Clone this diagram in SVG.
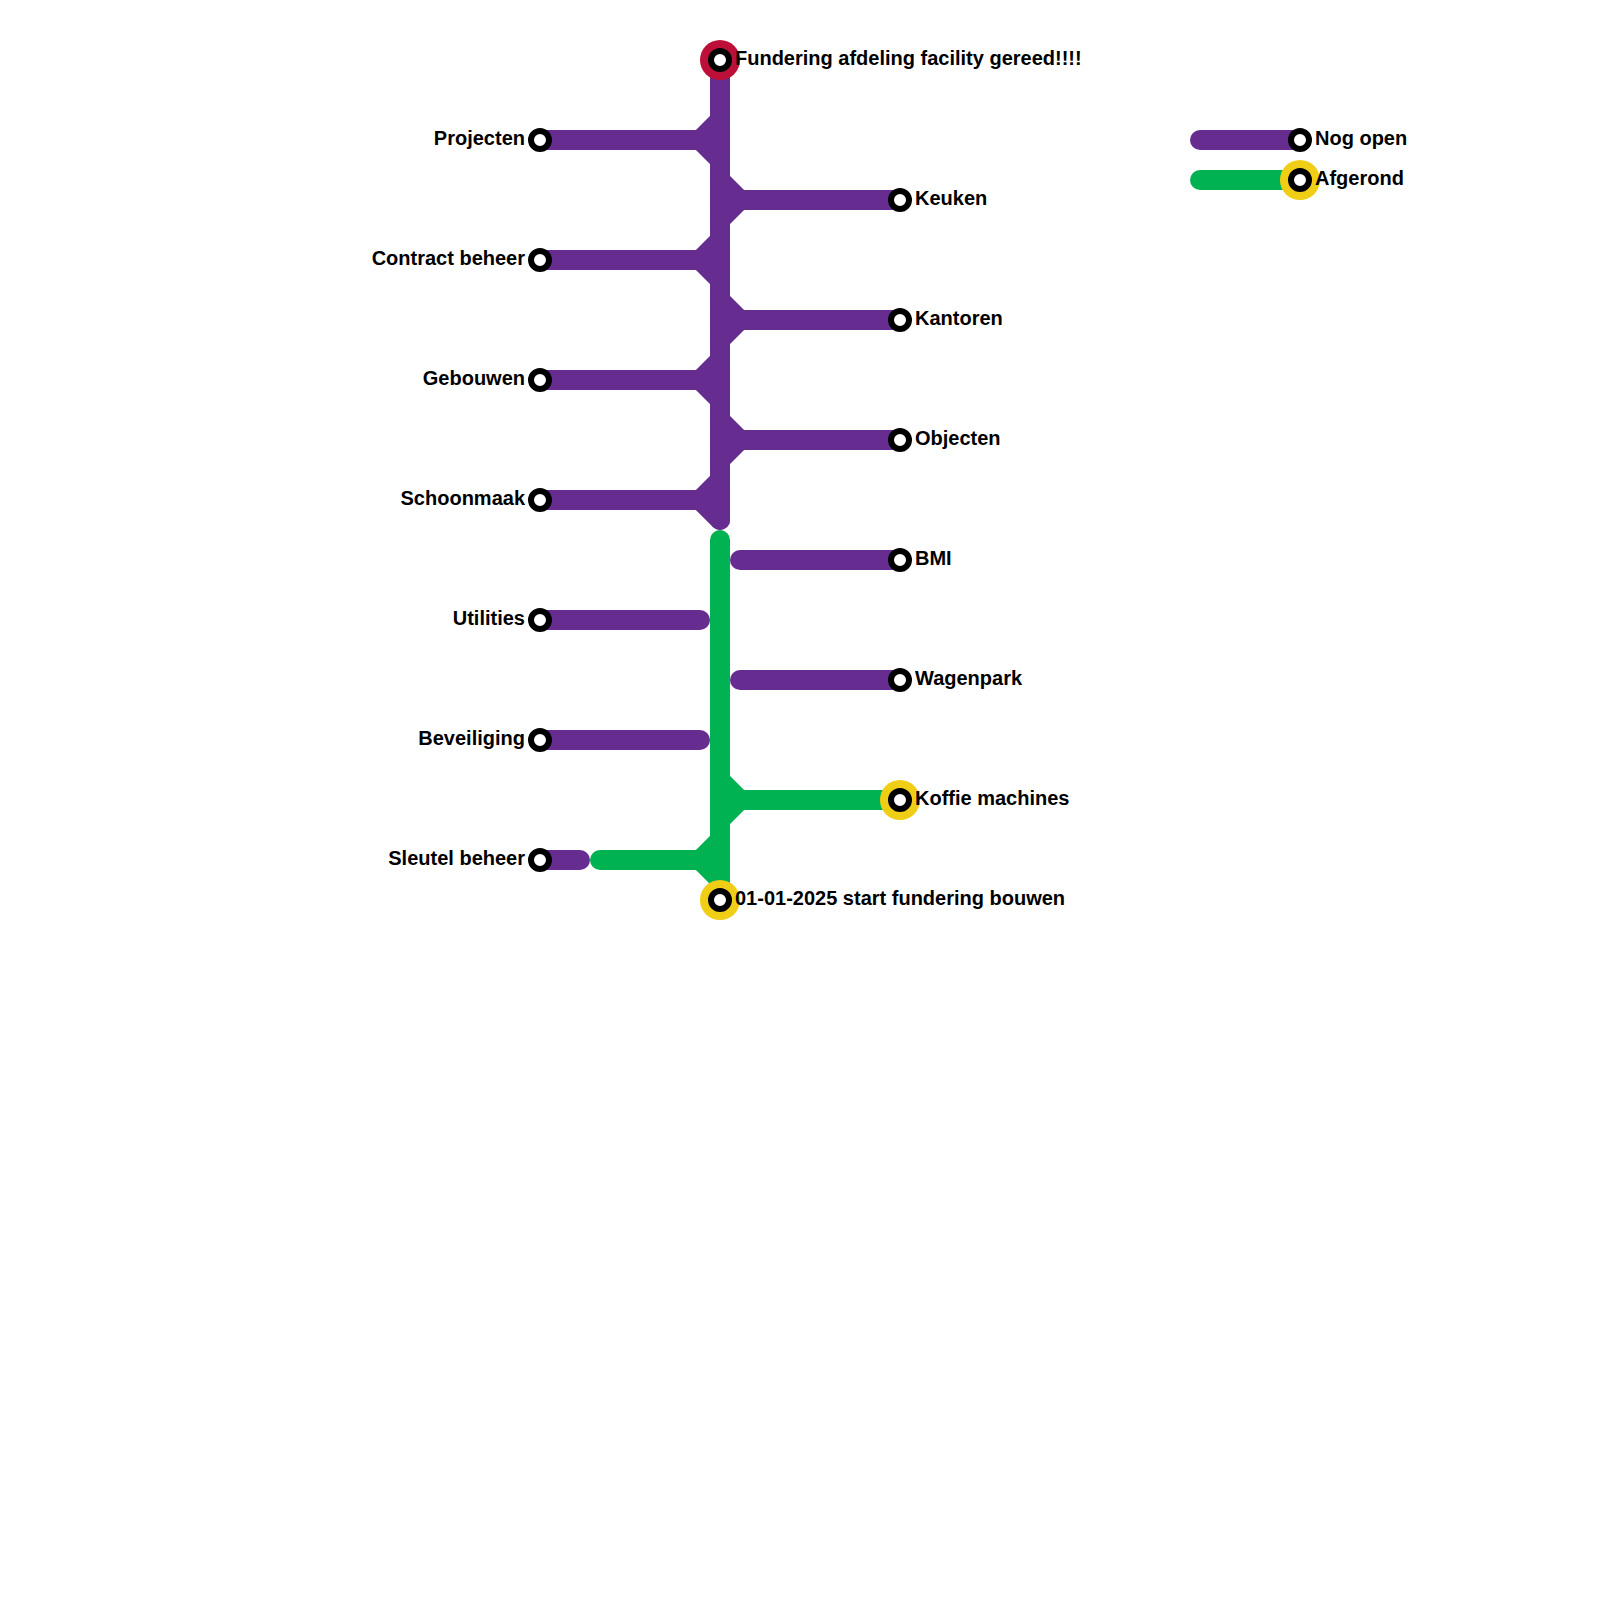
<svg xmlns="http://www.w3.org/2000/svg" width="1600" height="1600" viewBox="0 0 1600 1600">
<style>
.l{fill:none;stroke-width:20;stroke-linecap:round;stroke-linejoin:miter}
.p{stroke:#662c90}
.g{stroke:#00b251}
.s{fill:#fff;stroke:#000;stroke-width:6}
.t{font-family:"Liberation Sans",Arial,sans-serif;font-weight:700;font-size:20px;fill:#000}
.e{text-anchor:end}
.hy{fill:#f0ce15}
.hr{fill:#bd1038}
</style>
<rect width="1600" height="1600" fill="#fff"/>
<g id="connectors">
<path class="l p" d="M720 60V520"/>
<path class="l p" d="M540 140H700L720 120M700 140L720 160"/>
<path class="l p" d="M900 200H740L720 180M740 200L720 220"/>
<path class="l p" d="M540 260H700L720 240M700 260L720 280"/>
<path class="l p" d="M900 320H740L720 300M740 320L720 340"/>
<path class="l p" d="M540 380H700L720 360M700 380L720 400"/>
<path class="l p" d="M900 440H740L720 420M740 440L720 460"/>
<path class="l p" d="M540 500H700L720 480M700 500L720 520"/>
<path class="l p" d="M900 560H740"/>
<path class="l p" d="M540 620H700"/>
<path class="l p" d="M900 680H740"/>
<path class="l p" d="M540 740H700"/>
<path class="l p" d="M540 860H580"/>
<path class="l g" d="M720 540V900"/>
<path class="l g" d="M900 800H740L720 780M740 800L720 820"/>
<path class="l g" d="M600 860H700L720 840M700 860L720 880"/>
<path class="l p" d="M1200 140H1300"/>
<path class="l g" d="M1200 180H1300"/>
</g>
<g id="n-fundering"><circle class="hr" cx="720" cy="60" r="20"/><circle class="s" cx="720" cy="60" r="9"/><text class="t" x="735" y="65">Fundering afdeling facility gereed!!!!</text></g>
<g id="n-projecten"><circle class="s" cx="540" cy="140" r="9"/><text class="t e" x="525" y="145">Projecten</text></g>
<g id="n-keuken"><circle class="s" cx="900" cy="200" r="9"/><text class="t" x="915" y="205">Keuken</text></g>
<g id="n-contract"><circle class="s" cx="540" cy="260" r="9"/><text class="t e" x="525" y="265">Contract beheer</text></g>
<g id="n-kantoren"><circle class="s" cx="900" cy="320" r="9"/><text class="t" x="915" y="325">Kantoren</text></g>
<g id="n-gebouwen"><circle class="s" cx="540" cy="380" r="9"/><text class="t e" x="525" y="385">Gebouwen</text></g>
<g id="n-objecten"><circle class="s" cx="900" cy="440" r="9"/><text class="t" x="915" y="445">Objecten</text></g>
<g id="n-schoonmaak"><circle class="s" cx="540" cy="500" r="9"/><text class="t e" x="525" y="505">Schoonmaak</text></g>
<g id="n-bmi"><circle class="s" cx="900" cy="560" r="9"/><text class="t" x="915" y="565">BMI</text></g>
<g id="n-utilities"><circle class="s" cx="540" cy="620" r="9"/><text class="t e" x="525" y="625">Utilities</text></g>
<g id="n-wagenpark"><circle class="s" cx="900" cy="680" r="9"/><text class="t" x="915" y="685">Wagenpark</text></g>
<g id="n-beveiliging"><circle class="s" cx="540" cy="740" r="9"/><text class="t e" x="525" y="745">Beveiliging</text></g>
<g id="n-koffie"><circle class="hy" cx="900" cy="800" r="20"/><circle class="s" cx="900" cy="800" r="9"/><text class="t" x="915" y="805">Koffie machines</text></g>
<g id="n-sleutel"><circle class="s" cx="540" cy="860" r="9"/><text class="t e" x="525" y="865">Sleutel beheer</text></g>
<g id="n-start"><circle class="hy" cx="720" cy="900" r="20"/><circle class="s" cx="720" cy="900" r="9"/><text class="t" x="735" y="905">01-01-2025 start fundering bouwen</text></g>
<g id="n-nog-open"><circle class="s" cx="1300" cy="140" r="9"/><text class="t" x="1315" y="145">Nog open</text></g>
<g id="n-afgerond"><circle class="hy" cx="1300" cy="180" r="20"/><circle class="s" cx="1300" cy="180" r="9"/><text class="t" x="1315" y="185">Afgerond</text></g>
</svg>
